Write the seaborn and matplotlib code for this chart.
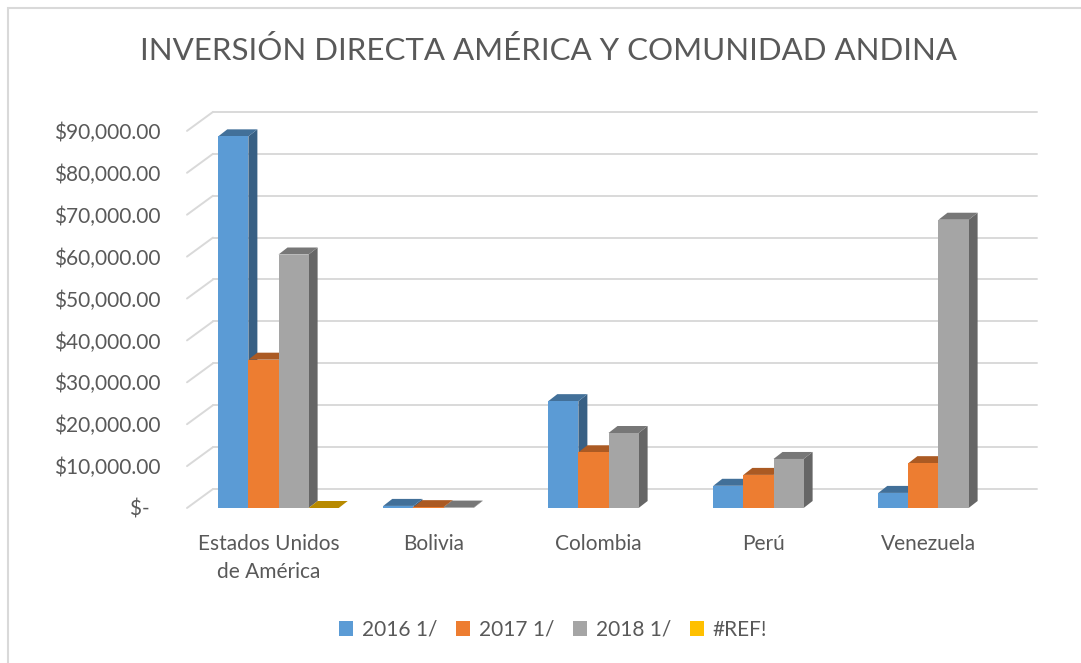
import matplotlib
matplotlib.use('Agg')
import matplotlib.pyplot as plt
import seaborn as sns
import pandas as pd
import numpy as np
from matplotlib.patches import Polygon, Rectangle
from matplotlib.transforms import ScaledTranslation
from matplotlib.colors import to_rgb

# Data
paises = ["Estados Unidos\nde América", "Bolivia", "Colombia", "Perú", "Venezuela"]
series = ["2016 1/", "2017 1/", "2018 1/", "#REF!"]
v2016 = [88700, 500, 25500, 5300, 3600]
v2017 = [35400, 200, 13300, 7900, 10700]
v2018 = [60500, 100, 17900, 11700, 68800]
vref = [0, np.nan, np.nan, np.nan, np.nan]
colores = ["#5B9BD5", "#ED7D31", "#A5A5A5", "#FFC000"]
yticks = list(range(0, 90001, 10000))

df = pd.DataFrame({
    "pais": paises * 4,
    "serie": [s for s in series for _ in paises],
    "valor": v2016 + v2017 + v2018 + vref,
})

sns.set_style("white")
plt.rcParams['font.family'] = ['Lato', 'DejaVu Sans']
txt_color = "#595959"
grid_color = "#D9D9D9"

W, H = 1081, 663
fig = plt.figure(figsize=(W / 100, H / 100), dpi=100)

# axes placement in pixels
ax_left, ax_right = 187, 1037
ax_bottom_px = 508          # y (from top) of value 0
px_per_unit = 41.9 / 10000  # pixels per $
ymax = 94600
ax_h = ymax * px_per_unit
ax = fig.add_axes([ax_left / W, (H - ax_bottom_px) / H, (ax_right - ax_left) / W, ax_h / H])

sns.barplot(data=df, x="pais", y="valor", hue="serie", palette=colores,
            width=0.73, saturation=1, errorbar=None, ax=ax, zorder=3,
            linewidth=0, edgecolor='none')

xspan = 165.0
x0 = (ax_left - 278.5) / xspan
ax.set_xlim(x0, x0 + (ax_right - ax_left) / xspan)
ax.set_ylim(0, ymax)

# back wall gridlines + left wall diagonals (3D look)
dxg = 26 / xspan
dyg = 19 / px_per_unit
for v in yticks:
    ax.plot([x0 + dxg, ax.get_xlim()[1]], [v + dyg, v + dyg], color=grid_color, lw=1.4, zorder=1, clip_on=False)
    ax.plot([x0, x0 + dxg], [v, v + dyg], color=grid_color, lw=1.4, zorder=1, clip_on=False)

# 3D faces of bars
dx = 9 / xspan
dy = 7 / px_per_unit
for p in list(ax.patches):
    if not np.isfinite(p.get_height()):
        continue
    bx, bw, bh, by = p.get_x(), p.get_width(), p.get_height(), p.get_y()
    c = np.array(to_rgb(p.get_facecolor()))
    top = Polygon([(bx, by + bh), (bx + bw, by + bh), (bx + bw + dx, by + bh + dy), (bx + dx, by + bh + dy)],
                  closed=True, facecolor=c * 0.72, edgecolor='none', zorder=2.5)
    side = Polygon([(bx + bw, by), (bx + bw + dx, by + dy), (bx + bw + dx, by + bh + dy), (bx + bw, by + bh)],
                   closed=True, facecolor=c * 0.62, edgecolor='none', zorder=2)
    ax.add_patch(side)
    ax.add_patch(top)

# axes styling
for s in ax.spines.values():
    s.set_visible(False)
ax.set_xlabel("")
ax.set_ylabel("")
ax.set_yticks(yticks)
ax.set_yticklabels(["$-  " if v == 0 else f"${v:,.2f}" for v in yticks])
ax.tick_params(axis='y', length=0, pad=19, labelsize=15, labelcolor=txt_color)
ax.tick_params(axis='x', length=0, pad=19, labelsize=15, labelcolor=txt_color)
ax.set_xticks(range(len(paises)))
ax.set_xticklabels(paises, linespacing=1.5)
shift = ScaledTranslation(-10 / 100, 0, fig.dpi_scale_trans)
for lbl in ax.get_xticklabels():
    lbl.set_transform(lbl.get_transform() + shift)

# legend
sns.move_legend(ax, "center", bbox_to_anchor=(553 / W, 1 - 630 / H), bbox_transform=fig.transFigure,
                ncol=4, frameon=False, title=None, fontsize=15, handlelength=0.7, handleheight=0.7,
                handletextpad=0.4, columnspacing=0.9)
for t in ax.get_legend().get_texts():
    t.set_color(txt_color)

# title
fig.text(548 / W, 1 - 51 / H, "INVERSIÓN DIRECTA AMÉRICA Y COMUNIDAD ANDINA",
         ha='center', va='center', fontsize=22.5, color=txt_color)

# chart border
fig.patches.append(Rectangle((8 / W, -0.05), 1.2, (H - 8) / H + 0.05, transform=fig.transFigure,
                             fill=False, edgecolor=grid_color, lw=1.5))

fig.savefig("out.png", dpi=100)
plt.close()
